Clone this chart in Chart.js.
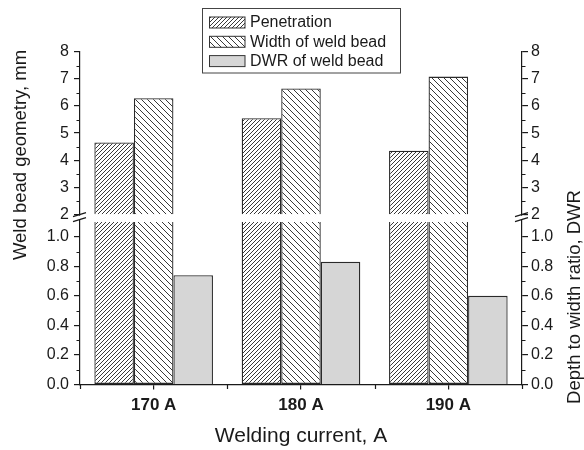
<!DOCTYPE html>
<html>
<head>
<meta charset="utf-8">
<title>Weld bead geometry vs welding current</title>
<script src="https://cdn.jsdelivr.net/npm/chart.js@4.4.0/dist/chart.umd.min.js"></script>
<style>
  html, body { margin: 0; padding: 0; background: #fff; }
  #wrap { width: 584px; height: 450px; }
</style>
</head>
<body>
<div id="wrap"><canvas id="weldChart" width="584" height="450"></canvas></div>
<script>
// Values
const categories = ['170 A', '180 A', '190 A'];
const penetration = [4.65, 5.55, 4.35];   // mm
const beadWidth = [6.29, 6.65, 7.09];     // mm
const dwr = [0.74, 0.83, 0.60];           // depth to width ratio
const seriesNames = ['Penetration', 'Width of weld bead', 'DWR of weld bead'];

// Broken axis: lower part 0..1.1, upper part 2..8
const lowTop = 1.1;
const highBottom = 2;
const highMinorTicks = [2.5, 3.5, 4.5, 5.5, 6.5, 7.5];
const lowMinorTicks = [0.1, 0.3, 0.5, 0.7, 0.9];

const FONT = "'Liberation Sans', Arial, sans-serif";
const INK = '#1a1a1a';

// Hatch pattern: dir 1 = '/', dir -1 = '\'
function hatch(step, dir) {
  const c = document.createElement('canvas');
  c.width = step;
  c.height = step;
  const g = c.getContext('2d');
  g.fillStyle = '#fff';
  g.fillRect(0, 0, step, step);
  g.strokeStyle = '#222';
  g.lineWidth = 0.9;
  g.beginPath();
  if (dir > 0) {
    g.moveTo(-1, step + 1); g.lineTo(step + 1, -1);
    g.moveTo(-1, 1); g.lineTo(1, -1);
    g.moveTo(step - 1, step + 1); g.lineTo(step + 1, step - 1);
  } else {
    g.moveTo(-1, -1); g.lineTo(step + 1, step + 1);
    g.moveTo(step - 1, -1); g.lineTo(step + 1, 1);
    g.moveTo(-1, step - 1); g.lineTo(1, step + 1);
  }
  g.stroke();
  return g.createPattern(c, 'repeat');
}

const penFill = hatch(4, 1);
const widthFill = hatch(6, -1);
const dwrFill = '#d6d6d6';

// Extra ticks: minor y ticks and x ticks at category edges
const extraTicks = {
  id: 'extraTicks',
  afterDraw(chart) {
    const { ctx, scales } = chart;
    ctx.save();
    ctx.strokeStyle = INK;
    ctx.lineWidth = 1.2;
    ctx.beginPath();
    [['yHigh', highMinorTicks, -1], ['yLow', lowMinorTicks, -1],
     ['rHigh', highMinorTicks, 1], ['rLow', lowMinorTicks, 1]].forEach(([id, values, dir]) => {
      const s = scales[id];
      const x0 = dir < 0 ? s.right : s.left;
      values.forEach(v => {
        const y = Math.round(s.getPixelForValue(v)) + 0.5;
        ctx.moveTo(x0, y);
        ctx.lineTo(x0 + dir * 3.5, y);
      });
    });
    const xs = scales.x;
    const step = (xs.right - xs.left) / categories.length;
    for (let i = 0; i <= categories.length; i++) {
      const x = Math.round(xs.left + i * step) + 0.5;
      ctx.moveTo(x, xs.top);
      ctx.lineTo(x, xs.top + 4.5);
    }
    ctx.stroke();
    ctx.restore();
  }
};

// Break marks on both vertical axes
const axisBreak = {
  id: 'axisBreak',
  afterDraw(chart) {
    const { ctx, chartArea, scales } = chart;
    const yTop = scales.yHigh.getPixelForValue(highBottom);
    ctx.save();
    [chartArea.left, chartArea.right].forEach(x => {
      ctx.fillStyle = '#fff';
      ctx.fillRect(x - 2, yTop + 1.5, 4, 4);
      ctx.strokeStyle = INK;
      ctx.lineWidth = 1.2;
      ctx.beginPath();
      ctx.moveTo(x - 7, yTop + 2.5); ctx.lineTo(x + 6, yTop - 1.5);
      ctx.moveTo(x - 7, yTop + 7.5); ctx.lineTo(x + 6, yTop + 3.5);
      ctx.stroke();
    });
    ctx.restore();
  }
};

// Vertical axis titles
const sideTitles = {
  id: 'sideTitles',
  afterDraw(chart) {
    const { ctx } = chart;
    ctx.save();
    ctx.font = `18.5px ${FONT}`;
    ctx.fillStyle = INK;
    ctx.textAlign = 'center';
    ctx.textBaseline = 'middle';
    [['Weld bead geometry, mm', 21, 155], ['Depth to width ratio, DWR', 575, 297]].forEach(([text, x, y]) => {
      ctx.save();
      ctx.translate(x, y);
      ctx.rotate(-Math.PI / 2);
      ctx.fillText(text, 0, 0);
      ctx.restore();
    });
    ctx.restore();
  }
};

// Framed legend overlapping the top of the plot
const boxLegend = {
  id: 'boxLegend',
  afterDraw(chart) {
    const { ctx } = chart;
    const fills = chart.data.datasets.slice(0, 3).map(d => d.backgroundColor);
    ctx.save();
    ctx.fillStyle = '#fff';
    ctx.fillRect(202.5, 8.5, 198, 64.5);
    ctx.strokeStyle = '#444';
    ctx.lineWidth = 1;
    ctx.strokeRect(202.5, 8.5, 198, 64.5);
    ctx.font = `16px ${FONT}`;
    ctx.textBaseline = 'middle';
    seriesNames.forEach((name, i) => {
      const cy = 22.5 + i * 19.3;
      ctx.fillStyle = fills[i];
      ctx.fillRect(209.5, cy - 5.5, 35.5, 11);
      ctx.strokeStyle = '#333';
      ctx.strokeRect(209.5, cy - 5.5, 35.5, 11);
      ctx.fillStyle = INK;
      ctx.fillText(name, 250, cy + 0.5);
    });
    ctx.restore();
  }
};

function yAxis(position, stack, min, max, stepSize, fmt) {
  return {
    type: 'linear',
    position: position,
    stack: stack,
    stackWeight: 1,
    stacked: false,
    min: min,
    max: max,
    grid: { drawOnChartArea: false, tickLength: 6, color: INK, lineWidth: 1.2 },
    border: { color: INK, width: 1.2 },
    ticks: {
      stepSize: stepSize,
      includeBounds: false,
      autoSkip: false,
      padding: position === 'left' ? 5 : 3,
      color: INK,
      font: { family: FONT, size: 16 },
      callback: fmt
    },
    afterFit(s) { s.width = position === 'left' ? 80 : 62; }
  };
}

const ctxWeld = document.getElementById('weldChart').getContext('2d');
const weldChart = new Chart(ctxWeld, {
  type: 'bar',
  data: {
    labels: categories,
    datasets: [
      { label: seriesNames[0], data: penetration.map(v => Math.min(v, lowTop)), yAxisID: 'yLow', stack: 'pen',
        backgroundColor: penFill, borderSkipped: 'top' },
      { label: seriesNames[1], data: beadWidth.map(v => Math.min(v, lowTop)), yAxisID: 'yLow', stack: 'wid',
        backgroundColor: widthFill, borderSkipped: 'top' },
      { label: seriesNames[2], data: dwr, yAxisID: 'yLow', stack: 'dwr', backgroundColor: dwrFill },
      { label: seriesNames[0], data: penetration.map(v => [highBottom, v]), yAxisID: 'yHigh', stack: 'pen',
        backgroundColor: penFill },
      { label: seriesNames[1], data: beadWidth.map(v => [highBottom, v]), yAxisID: 'yHigh', stack: 'wid',
        backgroundColor: widthFill }
    ]
  },
  options: {
    responsive: false,
    animation: false,
    devicePixelRatio: 1,
    layout: { padding: { top: 52, left: 0, right: 0, bottom: 0 } },
    datasets: {
      bar: { borderColor: '#2a2a2a', borderWidth: 1.3, barPercentage: 1, categoryPercentage: 0.805 }
    },
    plugins: {
      legend: { display: false },
      tooltip: { enabled: false }
    },
    scales: {
      x: {
        type: 'category',
        offset: true,
        grid: { drawOnChartArea: false, offset: false, tickLength: 5, color: INK, lineWidth: 1.2 },
        border: { color: INK, width: 1.2 },
        ticks: { color: INK, padding: 6, maxRotation: 0, autoSkip: false,
                 font: { family: FONT, size: 17, weight: 'bold' } },
        title: { display: true, text: 'Welding current, A', color: INK,
                 font: { family: FONT, size: 21 }, padding: { top: 0, bottom: 1 } },
        afterFit(s) { s.height = 65.5; }
      },
      yLow: yAxis('left', 'left', 0, 1.125, 0.2, v => v.toFixed(1)),
      yHigh: yAxis('left', 'left', 1.85, 8, 1, v => String(v)),
      rHigh: yAxis('right', 'right', 1.85, 8, 1, v => String(v)),
      rLow: yAxis('right', 'right', 0, 1.125, 0.2, v => v.toFixed(1))
    }
  },
  plugins: [extraTicks, axisBreak, sideTitles, boxLegend]
});
</script>
</body>
</html>
